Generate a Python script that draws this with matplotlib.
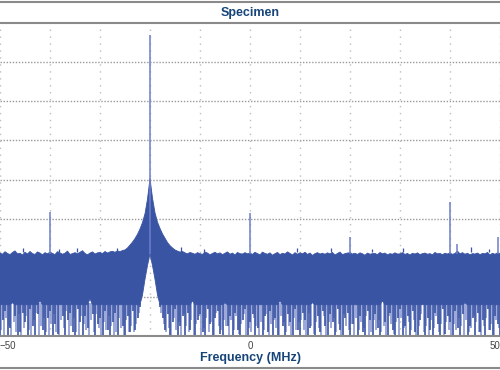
import numpy as np
import matplotlib

matplotlib.use('Agg')  # no display
import matplotlib.pyplot as plt
from matplotlib.lines import Line2D

# spectrum bins, 0.5 MHz apart, from -50 to 50 MHz
freq = np.arange(-50, 50.5, 0.5)

# upper edge of the noise band (dB)
top = [
    -117.6, -118.2, -116.9, -117.8, -118.4, -117.3, -116.5, -118.0, -117.7, -118.6,
    -117.2, -118.1, -116.8, -117.9, -118.3, -117.0, -117.6, -118.5, -117.4, -118.0,
    -117.1, -117.8, -118.4, -116.9, -117.5, -118.2, -117.7, -116.6, -118.3, -117.9,
    -117.4, -118.0, -117.2, -116.4, -117.8, -118.5, -117.6, -117.0, -118.1, -117.5,
    -117.3, -117.9, -116.8, -117.6, -117.0, -116.7, -117.2, -116.5, -116.9, -116.3,
    -116.0, -115.0, -113.5, -112.0, -110.2, -108.0, -105.3, -102.0, -97.5, -90.0,
    -79.5, -89.5, -97.0, -101.8, -105.0, -107.8, -110.0, -112.2, -113.8, -115.0,
    -116.0, -116.6, -117.1, -116.8, -117.5, -118.0, -117.3, -117.7, -118.2, -117.4,
    -117.9, -118.3, -117.1, -117.6, -118.5, -117.8, -117.2, -118.0, -117.5, -118.4,
    -117.7, -117.0, -118.2, -117.6, -118.6, -117.3, -117.9, -118.1, -117.4, -118.0,
    -117.6, -118.3, -117.2, -117.9, -118.5, -117.1, -117.8, -118.2, -117.5, -118.7,
    -117.9, -117.3, -118.4, -117.7, -118.1, -117.0, -117.8, -118.6, -117.4, -118.2,
    -117.5, -118.0, -117.2, -118.3, -117.6, -118.8, -117.9, -117.4, -118.1, -117.7,
    -118.2, -117.5, -118.0, -117.3, -118.6, -117.8, -117.1, -118.4, -117.9, -117.6,
    -117.4, -118.1, -117.7, -118.3, -117.5, -118.0, -118.7, -117.6, -118.2, -117.9,
    -117.8, -118.4, -117.3, -118.0, -117.6, -118.5, -117.9, -118.2, -117.5, -118.1,
    -118.0, -117.4, -118.3, -117.8, -118.6, -117.7, -118.1, -117.5, -118.4, -117.9,
    -117.6, -118.2, -117.9, -118.5, -117.3, -118.0, -117.8, -118.4, -117.7, -118.1,
    -117.5, -118.3, -117.8, -116.6, -118.0, -117.4, -118.2, -117.7, -118.5, -117.9,
    -118.1, -117.6, -118.4, -117.8, -118.0, -117.3, -118.6, -117.7, -118.2, -117.5,
    -117.9,
]

# lowest level reached in each bin (dB)
low = [
    -160, -152, -147, -160, -156, -143, -150, -160, -158, -148,
    -153, -160, -146, -155, -160, -149, -142, -157, -160, -151,
    -147, -160, -154, -159, -144, -150, -160, -152, -148, -158,
    -160, -146, -153, -160, -150, -156, -141, -149, -160, -154,
    -151, -160, -147, -157, -160, -153, -148, -160, -144, -155,
    -160, -150, -158, -147, -157, -151, -145, -139, -131, -124,
    -118, -124, -131, -139, -145, -151, -157, -149, -160, -153,
    -146, -160, -155, -150, -160, -148, -157, -142, -160, -152,
    -149, -158, -160, -146, -154, -160, -151, -147, -159, -160,
    -143, -155, -150, -160, -148, -157, -160, -152, -146, -160,
    -153, -149, -160, -156, -144, -160, -150, -158, -147, -160,
    -151, -160, -142, -155, -160, -149, -153, -160, -146, -157,
    -160, -148, -152, -160, -156, -143, -160, -150, -158, -147,
    -155, -160, -149, -153, -160, -146, -157, -160, -151, -148,
    -160, -154, -144, -160, -150, -158, -160, -147, -152, -160,
    -149, -156, -160, -142, -153, -160, -148, -157, -160, -151,
    -146, -160, -155, -150, -160, -147, -158, -160, -152, -144,
    -160, -151, -157, -160, -148, -154, -160, -146, -159, -150,
    -153, -160, -147, -156, -160, -149, -143, -160, -155, -151,
    -160, -148, -158, -152, -160, -146, -157, -160, -150, -154,
    -160,
]

# fainter strokes that sit between the bins (dB)
low_faint = [
    -157, -160, -151, -155, -160, -153, -158, -149, -160, -156,
    -150, -157, -160, -152, -148, -160, -155, -151, -158, -160,
    -154, -149, -158, -160, -152, -156, -147, -160, -155, -151,
    -158, -160, -150, -154, -157, -160, -152, -158, -149, -156,
    -160, -153, -157, -150, -155, -160, -158, -151, -156, -160,
    -152, -158, -155, -158, -154, -148, -142, -135, -127, -120,
    -120, -127, -135, -142, -148, -154, -158, -156, -160, -151,
    -157, -153, -160, -149, -155, -158, -152, -160, -154, -150,
    -160, -156, -151, -158, -153, -160, -148, -155, -157, -152,
    -155, -160, -152, -157, -150, -159, -154, -149, -160, -156,
    -158, -151, -155, -160, -153, -157, -149, -160, -154, -152,
    -156, -160, -150, -153, -158, -155, -160, -151, -157, -153,
    -152, -157, -160, -148, -155, -159, -153, -156, -160, -150,
    -160, -153, -156, -151, -158, -154, -160, -149, -155, -157,
    -154, -160, -151, -157, -153, -156, -150, -160, -158, -152,
    -157, -152, -158, -155, -160, -150, -154, -159, -153, -160,
    -151, -156, -160, -153, -157, -152, -160, -155, -149, -158,
    -155, -160, -152, -156, -150, -158, -154, -160, -153, -157,
    -160, -154, -157, -151, -155, -160, -152, -158, -156, -150,
    -153, -158, -160, -155, -151, -157, -154, -160, -152, -156,
]

# small noise peaks poking above the band (MHz, dB)
jit_freq = [-45.4, -38.2, -34.6, -26.6, -13.8, -9.2, 9.4, 16.2, 24.4, 30.6, 44.2, 47.8]
jit_peak = [-115.0, -115.6, -114.8, -115.2, -114.6, -115.4, -115.1, -114.9, -115.5, -115.0, -114.7, -115.3]

# carrier and spurs: frequency (MHz) and peak level (dB)
spur_freq = [-20, -40, 0, 20, 40, 41.3, 49.6]
spur_peak = [-6, -96.6, -97, -109.4, -91.5, -113, -109.4]

BLUE = '#3a54a4'
FAINT = '#8a98d2'
SPUR = '#6d7ec8'
NAVY = '#17457a'
EDGE = '#8a8a8a'
SOLID = -144  # below this level the band breaks into strokes

fig = plt.figure(figsize=(5, 3.7), dpi=100)
ax = fig.add_axes([0, 1 - 336 / 370, 1, 313 / 370])
ax.set_xlim(-50, 50)
ax.set_ylim(-160, 0)

# grid
for g in range(-140, 0, 20):
    ax.axhline(g, color='#999999', lw=1, ls=(0, (1, 1.2)), zorder=0)
for g in range(-50, 51, 10):
    ax.axvline(g, color='#bdbdbd', lw=1, ls=(0, (1, 4)), zorder=0)

low = np.array(low)
low_faint = np.array(low_faint)
top = np.array(top)
mid = freq[:-1] + 0.25

# faint strokes, then the solid band, then the dark strokes
fk = low_faint < SOLID
ax.vlines(mid[fk], low_faint[fk], SOLID + 1, color=FAINT, lw=1.2, zorder=1)
ax.fill_between(freq, np.maximum(low, SOLID), top, color=BLUE, lw=0.6,
                edgecolor=BLUE, zorder=2)
dk = low < SOLID
ax.vlines(freq[dk], low[dk], SOLID + 1, color=BLUE, lw=1.2, zorder=2)
ax.vlines(jit_freq, -117, jit_peak, color=BLUE, lw=0.9, zorder=2)

# carrier and spurs
ax.vlines(spur_freq, -118, spur_peak, color=SPUR, lw=1.1, zorder=3)

for side in ['left', 'right']:
    ax.spines[side].set_visible(False)
for side in ['top', 'bottom']:
    ax.spines[side].set_color(EDGE)
    ax.spines[side].set_linewidth(1.5)
    ax.spines[side].set_zorder(4)

ax.set_yticks([])
ax.set_xticks([-50, 0, 50])
ax.set_xticklabels(['\u221250', '0', '50'])
ax.tick_params(axis='x', length=0, pad=3.5, labelsize=7, labelcolor='#444444')
labels = ax.get_xticklabels()
labels[0].set_ha('left')
labels[-1].set_ha('right')
for lab in labels:
    lab.set_family('Liberation Sans')

fig.text(0.5, 1 - 13 / 370, 'Specimen', ha='center', va='center',
         fontsize=9, fontweight='bold', color=NAVY, family='Liberation Sans')
fig.text(0.5, 1 - 357.5 / 370, 'Frequency (MHz)', ha='center', va='center',
         fontsize=9, fontweight='bold', color=NAVY, family='Liberation Sans')

# thin rules above the title and below the axis label
for yy in [1 - 1.5 / 370, 1 - 367.5 / 370]:
    fig.add_artist(Line2D([0, 1], [yy, yy], transform=fig.transFigure,
                          color=EDGE, lw=1.5))

fig.savefig('out.png', dpi=100)
